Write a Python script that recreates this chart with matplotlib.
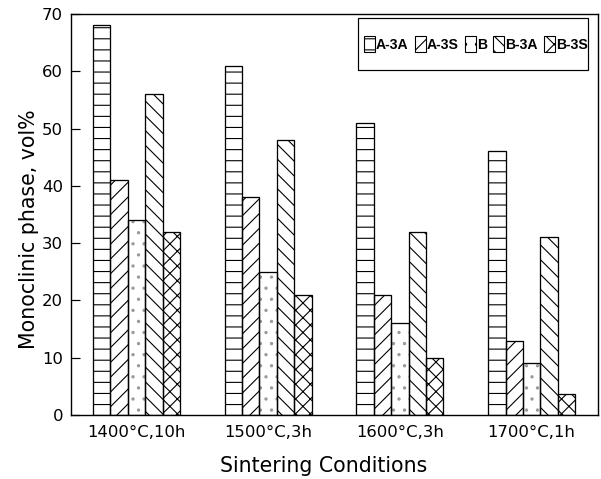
import matplotlib
matplotlib.use("Agg")
import matplotlib.pyplot as plt
import matplotlib.patches as mpatches
from matplotlib import font_manager as fm
import numpy as np

# ---- data ----
conditions = ["1400°C,10h", "1500°C,3h", "1600°C,3h", "1700°C,1h"]
series_names = ["A-3A", "A-3S", "B", "B-3A", "B-3S"]
a3a = [68, 61, 51, 46]
a3s = [41, 38, 21, 13]
b = [34, 25, 16, 9]
b3a = [56, 48, 32, 31]
b3s = [32, 21, 10, 3.7]
yticks = [0, 10, 20, 30, 40, 50, 60, 70]

series = [a3a, a3s, b, b3a, b3s]
hatches = ["--", "///", "..", "\\\\\\", "xxx"]
hatch_colors = ["black", "black", "#9a9a9a", "black", "black"]
legend_hatches = ["--", "//", "..", "\\\\\\", "xx"]

DPI = 133
W, H = 601, 479
plt.rcParams["hatch.linewidth"] = 0.6
plt.rcParams["font.family"] = ["DejaVu Sans"]

names = {f.name for f in fm.fontManager.ttflist}
if "Liberation Sans Narrow" in names:
    leg_family, leg_size = "Liberation Sans Narrow", 9.0
else:
    leg_family, leg_size = "Liberation Sans", 7.6

def px(p):
    return p * 72.0 / DPI

fig = plt.figure(figsize=(W / DPI, H / DPI), dpi=DPI)
ax = fig.add_axes([71 / W, 1 - 415 / H, (598 - 71) / W, (415 - 14) / H])

x = np.arange(len(conditions))
w = 0.132
for k, vals in enumerate(series):
    pos = x + (k - 2) * w
    ax.bar(pos, vals, width=w, facecolor="white", edgecolor=hatch_colors[k],
           hatch=hatches[k], linewidth=0, zorder=2)
    ax.bar(pos, vals, width=w, fill=False, edgecolor="black",
           linewidth=px(1.3), zorder=3)

ax.set_xlim(-0.497, 3.504)
ax.set_ylim(0, 70)
ax.set_yticks(yticks)
ax.set_xticks(x)
ax.set_xticklabels(conditions, fontsize=px(16.5))
ax.tick_params(axis="x", length=0, pad=px(10))
ax.tick_params(axis="y", direction="in", length=px(9), width=px(1.2),
               pad=px(8), labelsize=px(16.5))
for s in ax.spines.values():
    s.set_linewidth(px(1.4))

ax.set_xlabel("Sintering Conditions", fontsize=px(20.5))
ax.xaxis.set_label_coords(324 / W, 1 - 466 / H, transform=fig.transFigure)
ax.xaxis.label.set_va("center")
ax.set_ylabel("Monoclinic phase, vol%", fontsize=px(20.5))
ax.yaxis.set_label_coords(29 / W, 1 - 229 / H, transform=fig.transFigure)
ax.yaxis.label.set_va("center")

# legend frame (plain rectangle at the reference's box)
frame = mpatches.Rectangle((358 / W, 1 - 70 / H), (588 - 358) / W, (70 - 18) / H,
                           transform=fig.transFigure, facecolor="white",
                           edgecolor="black", linewidth=px(1.2), zorder=6,
                           clip_on=False)
ax.add_patch(frame)

handles = [mpatches.Patch(facecolor="white", edgecolor="black", hatch=h,
                          linewidth=px(1.1)) for h in legend_hatches]
leg = ax.legend(handles, series_names, loc="center",
                bbox_to_anchor=(476 / W, 1 - 44 / H), bbox_transform=fig.transFigure,
                ncol=5, frameon=False, borderaxespad=0, borderpad=0,
                handlelength=0.75, handleheight=1.4,
                handletextpad=0.1, columnspacing=0.45,
                prop={"family": leg_family, "weight": "bold", "size": leg_size})
leg.set_zorder(7)

fig.savefig("out.png", dpi=DPI)
